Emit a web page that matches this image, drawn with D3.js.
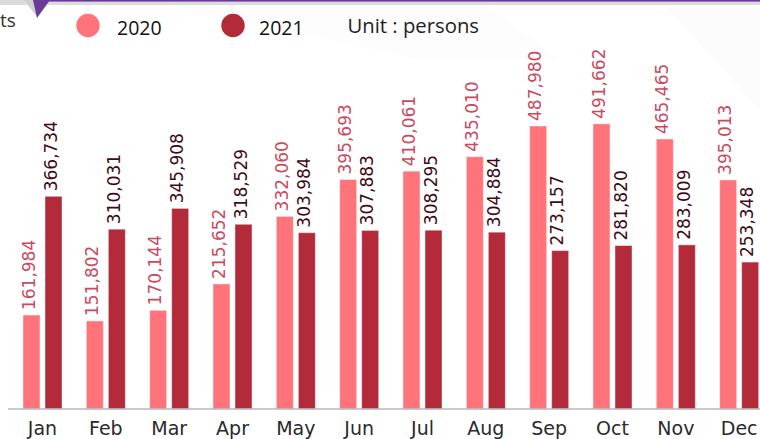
<!DOCTYPE html>
<html>
<head>
<meta charset="utf-8">
<script src="https://cdn.jsdelivr.net/npm/d3@7/dist/d3.min.js"></script>
<style>
  html, body { margin: 0; padding: 0; background: #fff; }
  svg { display: block; }
</style>
</head>
<body>
<svg id="chart" width="760" height="439"></svg>
<script>
const months = ["Jan","Feb","Mar","Apr","May","Jun","Jul","Aug","Sep","Oct","Nov","Dec"];
const series = ["2020","2021"];
const values2020 = [161984,151802,170144,215652,332060,395693,410061,435010,487980,491662,465465,395013];
const values2021 = [366734,310031,345908,318529,303984,307883,308295,304884,273157,281820,283009,253348];
const unitLabel = "Unit : persons";
const cutTitle = "ts";

const colors = { "2020": "#FF737B", "2021": "#B32A3A" };
const labelColors = { "2020": "#C94A5E", "2021": "#3E0A16" };

const svg = d3.select("#chart");
const W = 760, H = 439;

// faint background shapes
svg.append("polygon").attr("points", "560,0 760,0 760,110 660,0").attr("fill", "#fcfcfc");
svg.append("polygon").attr("points", "150,0 480,0 560,60 420,60").attr("fill", "#fdfdfd");

// top decoration
svg.append("rect").attr("x", 0).attr("y", 0).attr("width", W).attr("height", 5).attr("fill", "#dcdcdc");
svg.append("polygon").attr("points", "24,0 36,0 37,17").attr("fill", "#d0d0d0");
svg.append("rect").attr("x", 40).attr("y", 0).attr("width", W - 40).attr("height", 1.6).attr("fill", "#6B3A98");
svg.append("polygon").attr("points", "33,0 50,0 37,18").attr("fill", "#6B3A98");
svg.append("text").attr("x", 0).attr("y", 27)
  .attr("font-family", "Open Sans").attr("font-size", 19).attr("fill", "#333").text(cutTitle);

// legend
const legend = [
  { key: "2020", cx: 88, tx: 117 },
  { key: "2021", cx: 233, tx: 259 }
];
legend.forEach(l => {
  svg.append("circle").attr("cx", l.cx).attr("cy", 25.5).attr("r", 11.7).attr("fill", colors[l.key]);
  svg.append("text").attr("x", l.tx).attr("y", 35).attr("font-family", "Open Sans").attr("font-size", 19.5)
    .attr("fill", "#111").text(l.key);
});
svg.append("text").attr("x", 347.5).attr("y", 33).attr("font-family", "Open Sans").attr("font-size", 20.3)
  .attr("fill", "#222").text(unitLabel);

// scales
const x = d3.scaleBand().domain(months).range([10.84, 770.84]).paddingInner(0.384).paddingOuter(0.192);
const xs = d3.scaleBand().domain(series).range([0, x.bandwidth()]).paddingInner(0.227).paddingOuter(0);
const y = d3.scaleLinear().domain([0, 500000]).range([409, 119]);

const data = months.map((m, i) => ({ month: m, "2020": values2020[i], "2021": values2021[i] }));

const groups = svg.append("g").selectAll("g").data(data).join("g")
  .attr("transform", d => `translate(${x(d.month)},0)`);

groups.selectAll("rect").data(d => series.map(s => ({ s, v: d[s] }))).join("rect")
  .attr("x", d => xs(d.s))
  .attr("y", d => y(d.v))
  .attr("width", xs.bandwidth())
  .attr("height", d => y(0) - y(d.v))
  .attr("fill", d => colors[d.s])
  .attr("stroke", "rgba(255,255,255,0.45)")
  .attr("stroke-width", 1);

groups.selectAll("text").data(d => series.map(s => ({ s, v: d[s] }))).join("text")
  .attr("transform", d => `translate(${xs(d.s) + xs.bandwidth() / 2 + 3},${y(d.v) - 5}) rotate(-90)`)
  .attr("text-anchor", "start")
  .attr("font-family", "DejaVu Sans")
  .attr("font-size", 17)
  .attr("fill", d => labelColors[d.s])
  .text(d => d3.format(",")(d.v));

// x axis
const xAxis = d3.axisBottom(x).tickSize(0).tickPadding(0);
const ax = svg.append("g").attr("transform", `translate(0,409)`).call(xAxis);
ax.select(".domain").remove();
ax.selectAll("text").attr("font-family", "DejaVu Sans").attr("font-size", 19).attr("fill", "#2a2a2a")
  .attr("dy", null).attr("y", 26);
svg.append("line").attr("x1", 8).attr("x2", W).attr("y1", 409).attr("y2", 409)
  .attr("stroke", "#b8b8b8").attr("stroke-width", 1.5);
</script>
</body>
</html>
